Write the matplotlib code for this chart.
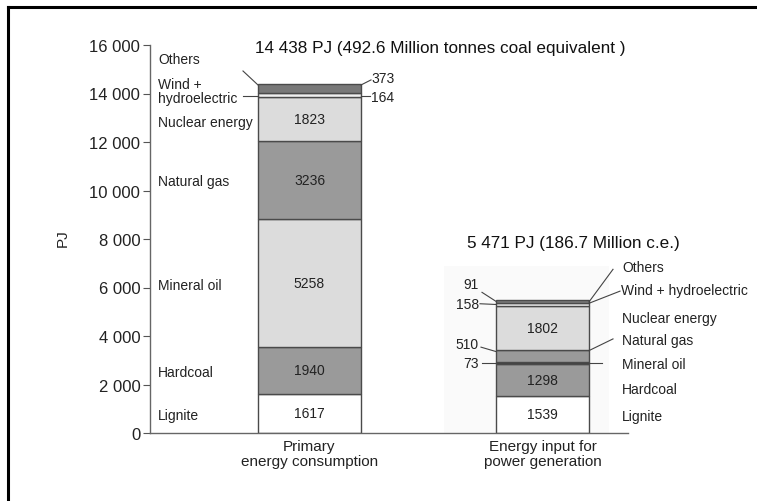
import matplotlib
matplotlib.use("Agg")
import matplotlib.pyplot as plt
from matplotlib.lines import Line2D
from matplotlib.patches import Rectangle

plt.rcParams['font.family'] = ['Liberation Sans', 'DejaVu Sans']

categories = ["Primary\nenergy consumption", "Energy input for\npower generation"]
sources = ["Lignite", "Hardcoal", "Mineral oil", "Natural gas", "Nuclear energy", "Wind + hydroelectric", "Others"]
primary = [1617, 1940, 5258, 3236, 1823, 164, 373]
power = [1539, 1298, 73, 510, 1802, 158, 91]
titles = ["14 438 PJ (492.6 Million tonnes coal equivalent )", "5 471 PJ (186.7 Million c.e.)"]
yticks = [0, 2000, 4000, 6000, 8000, 10000, 12000, 14000, 16000]
yticklabels = ["0", "2 000", "4 000", "6 000", "8 000", "10 000", "12 000", "14 000", "16 000"]

colors = ["#ffffff", "#9a9a9a", "#dcdcdc", "#9a9a9a", "#dcdcdc", "#efefef", "#787878"]
edge = "#4a4a4a"

W, H = 757, 502
fig = plt.figure(figsize=(W / 100, H / 100), dpi=100)
ax = fig.add_axes([150 / W, 68 / H, 478 / W, 388 / H])

x = [0, 1]
widths = [0.442, 0.40]
x0 = -0.6845
ax.set_xlim(x0, 1.367)
ax.set_ylim(0, 16000)

def px(p):
    """horizontal pixel position (from axes left at 150 px) -> data x"""
    return x0 + (p - 150) / 233

# faint background behind second bar
ax.add_patch(Rectangle((px(444), 0), 165 / 233, 6900, facecolor="#fafafa",
                       edgecolor="none", zorder=0))

for i, data in enumerate([primary, power]):
    bottom = 0
    for j, v in enumerate(data):
        ax.bar(x[i], v, width=widths[i], bottom=bottom, color=colors[j],
               edgecolor=edge, linewidth=1.0, zorder=2)
        bottom += v

# values inside segments
for i, data in enumerate([primary, power]):
    bottom = 0
    for j, v in enumerate(data):
        if v > 1000:
            ax.text(x[i], bottom + v / 2, str(v), ha="center", va="center", fontsize=10,
                    color="#222222", zorder=3)
        bottom += v

tk = dict(fontsize=10, color="#222222")
ln = dict(color="#444444", linewidth=0.8, clip_on=False, zorder=3)

# ---- bar 1 annotations ----
h1 = widths[0] / 2
cum1 = [sum(primary[:k + 1]) for k in range(len(primary))]
lx1 = px(158)
ax.text(lx1, 742, "Lignite", ha="left", va="center", **tk)
ax.text(lx1, 2515, "Hardcoal", ha="left", va="center", **tk)
ax.text(lx1, 6103, "Mineral oil", ha="left", va="center", **tk)
ax.text(lx1, 10392, "Natural gas", ha="left", va="center", **tk)
ax.text(lx1, 12825, "Nuclear energy", ha="left", va="center", **tk)
ax.text(lx1, 14103, "Wind +\nhydroelectric", ha="left", va="center", linespacing=0.95, **tk)
ax.text(lx1, 15423, "Others", ha="left", va="center", **tk)
ax.plot([px(243), x[0] - h1], [14928, cum1[6] - 60], **ln)
ax.plot([px(243), x[0] - h1], [13897, 13897], **ln)
ax.text(px(371), 14640, "373", ha="left", va="center", **tk)
ax.plot([x[0] + h1, px(371)], [cum1[6] - 60, 14560], **ln)
ax.text(px(371), 13855, "164", ha="left", va="center", **tk)
ax.plot([x[0] + h1, px(370)], [13897, 13897], **ln)

# ---- bar 2 annotations ----
h2 = widths[1] / 2
cum2 = [sum(power[:k + 1]) for k in range(len(power))]
rx = px(622)
ax.text(rx, 701, "Lignite", ha="left", va="center", **tk)
ax.text(rx, 1814, "Hardcoal", ha="left", va="center", **tk)
ax.text(rx, 2845, "Mineral oil", ha="left", va="center", **tk)
ax.text(rx, 3835, "Natural gas", ha="left", va="center", **tk)
ax.text(rx, 4742, "Nuclear energy", ha="left", va="center", **tk)
ax.text(px(621), 5897, "Wind + hydroelectric", ha="left", va="center", **tk)
ax.text(rx, 6845, "Others", ha="left", va="center", **tk)
ax.plot([x[1] + h2, px(613)], [cum2[6] - 60, 6750], **ln)
ax.plot([x[1] + h2, px(620)], [cum2[6] - 120, 5850], **ln)
ax.plot([x[1] + h2, px(613)], [cum2[3] - 20, 3880], **ln)
ax.plot([px(482), px(602)], [2873, 2873], **ln)
ax.plot([x[1] - h2, px(481)], [cum2[3] - 60, 3540], **ln)
ax.plot([x[1] - h2, px(480)], [cum2[5] - 80, 5330], **ln)
ax.plot([x[1] - h2, px(482)], [cum2[6] - 40, 5800], **ln)
ax.text(px(479), 6144, "91", ha="right", va="center", **tk)
ax.text(px(479), 5320, "158", ha="right", va="center", **tk)
ax.text(px(479), 3670, "510", ha="right", va="center", **tk)
ax.text(px(479), 2887, "73", ha="right", va="center", **tk)

# titles
ax.text(px(255), 15900, titles[0], ha="left", va="center", fontsize=12.3, color="#111111")
ax.text(px(467), 7860, titles[1], ha="left", va="center", fontsize=12.3, color="#111111")

# axes styling
ax.set_yticks(yticks)
ax.set_yticklabels(yticklabels, fontsize=12, color="#222222")
ax.set_xticks(x)
ax.set_xticklabels(categories, fontsize=11, color="#222222", linespacing=1.1)
ax.tick_params(axis="x", length=0, pad=4)
ax.tick_params(axis="y", length=5, width=0.8, color="#555555", pad=2)
for s in ["top", "right"]:
    ax.spines[s].set_visible(False)
ax.spines["left"].set_color("#666666")
ax.spines["bottom"].set_color("#666666")
ax.spines["left"].set_linewidth(1.0)
ax.spines["bottom"].set_linewidth(1.0)
ax.set_ylabel("PJ", fontsize=11, color="#222222")
ax.yaxis.set_label_coords(-80 / 478, 0.505)

# outer frame
fig.add_artist(Line2D([8 / W, 8 / W], [0, 1 - 8 / H], color="black", linewidth=2.2,
                      transform=fig.transFigure))
fig.add_artist(Line2D([8 / W, 1], [1 - 8 / H, 1 - 8 / H], color="black", linewidth=2.2,
                      transform=fig.transFigure))

fig.savefig("out.png", dpi=100, facecolor="white")
